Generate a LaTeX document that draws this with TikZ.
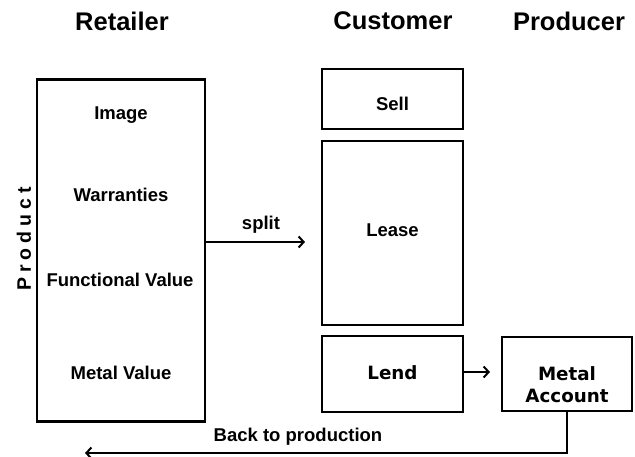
\documentclass[tikz,border=0pt]{standalone}
\usepackage{fontspec}
\setmainfont{Liberation Sans}
\newfontfamily\dvfont{DejaVu Sans}
\usetikzlibrary{arrows.meta}
\begin{document}
\begin{tikzpicture}[x=1pt,y=-1pt,
  box/.style={draw=black,line width=2.5pt,rectangle,inner sep=0pt},
  head/.style={font=\fontsize{25.5}{28}\selectfont\bfseries,inner sep=0pt},
  lbl/.style={font=\fontsize{18.5}{20}\selectfont\bfseries,inner sep=0pt,align=center},
  dlbl/.style={font=\dvfont\fontsize{18.3}{22}\selectfont\bfseries,inner sep=0pt,align=center},
  arr/.style={line width=2.3pt,-{Straight Barb[length=5pt,width=11pt,line width=2pt]}}
]
\useasboundingbox (0,0) rectangle (635,457);
\fill[white] (0,0) rectangle (635,457);
% headers
\node[head] (hret) at (122,21) {Retailer};
\node[head] (hcus) at (393,21) {Customer};
\node[head] (hpro) at (569,21) {Producer};
% retailer box
\node[box,minimum width=168pt,minimum height=342pt] (retailer) at (121,250.5) {};
\node[lbl] (image) at (121,115) {Image};
\node[lbl] (warr) at (121,195) {Warranties};
\node[lbl] (func) at (120,280) {Functional Value};
\node[lbl] (mval) at (121,373) {Metal Value};
\node[lbl,font=\fontsize{19.5}{20}\selectfont\bfseries,rotate=90] (product) at (24,239) {P\kern5pt r\kern5pt o\kern5pt d\kern5pt u\kern5pt c\kern5pt t};
% customer boxes
\node[box,minimum width=141pt,minimum height=60pt] (sell) at (392.5,99) {};
\node[lbl] (selltxt) at (392.5,104) {Sell};
\node[box,minimum width=141pt,minimum height=184pt] (lease) at (392.5,233) {};
\node[lbl] (leasetxt) at (392.5,230) {Lease};
\node[box,minimum width=141pt,minimum height=76pt] (lend) at (392.5,374) {};
\node[dlbl] (lendtxt) at (392.5,373) {Lend};
% producer box
\node[box,minimum width=130pt,minimum height=74pt] (metal) at (567,374) {};
\node[dlbl] (metaltxt) at (567,385) {Metal\\Account};
% split arrow
\coordinate (splitstart) at (retailer.east |- 0,242);
\coordinate (splitend) at (305,242);
\draw[arr] (splitstart) -- (splitend);
\node[lbl] (splittxt) at (261,225) {split};
% lend arrow
\coordinate (lendend) at (490,372);
\draw[arr] (lend.east |- lendend) -- (lendend);
% back to production
\coordinate (backend) at (85,453);
\draw[arr] (metal.south) |- (backend);
\node[lbl] (backtxt) at (298,437) {Back to production};
\end{tikzpicture}
\end{document}
